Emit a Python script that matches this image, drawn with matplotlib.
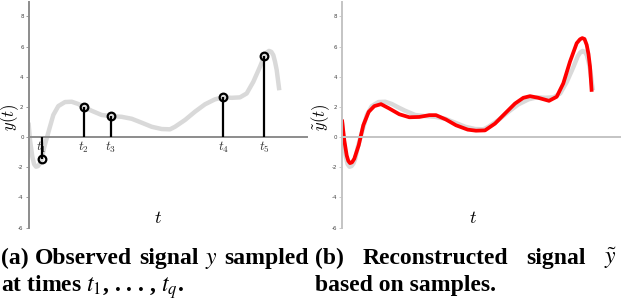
import numpy as np
import matplotlib
matplotlib.use('Agg')
import matplotlib.pyplot as plt

plt.rcParams.update({
    'mathtext.fontset': 'cm',
    'axes.unicode_minus': False,
    'font.family': 'DejaVu Sans',
})

# observed (true) signal
true_t = [0, 1.5, 3.8, 5.6, 7.5, 9.5, 11.5, 13.2, 15.8, 20.5, 24.8, 29.8, 36.5, 43.2, 49.8, 55.2,
          63.2, 73.2, 82.5, 93.2, 103.2, 113.2, 123.2, 133.2, 141.5, 146.5, 156.5,
          166.5, 176.5, 186.5, 194.8, 203.2, 211.5, 218.2, 224.8, 231.5, 235.8,
          238.2, 240.5, 242.8, 244.8, 246.5, 248.2, 250.8]
true_y = [0.95, -0.2, -1.3, -1.8, -1.97, -1.93, -1.75, -1.45, -0.66, 0.46, 1.46, 2.05, 2.32, 2.34, 2.19, 2.0,
          1.74, 1.46, 1.39, 1.34, 1.21, 0.95, 0.68, 0.53, 0.51, 0.68, 1.13,
          1.68, 2.17, 2.5, 2.63, 2.6, 2.63, 2.89, 3.66, 4.66, 5.36,
          5.6, 5.71, 5.65, 5.43, 5.0, 4.44, 3.1]

# samples
samp_t = [13.2, 55.2, 82.5, 194.8, 235.8]
samp_y = [-1.48, 2.0, 1.39, 2.63, 5.36]
samp_lbl = [r'$t_1$', r'$t_2$', r'$t_3$', r'$t_4$', r'$t_5$']

# reconstructed signal
rec_t = [0, 2.3, 4.7, 6.3, 8, 10, 12.3, 16.7, 21.3, 26.7, 32.3, 39, 47.3, 57.3, 67.3, 77.3,
         87.3, 94, 104, 114, 125.7, 134, 143, 153, 163, 173, 181.3, 188, 196.3,
         207, 214.7, 221.3, 228, 234.7, 238, 240.3, 242.5, 244.7, 246.5, 248, 249.7]
rec_y = [1.16, -0.22, -1.22, -1.58, -1.73, -1.68, -1.44, -0.55, 0.78, 1.67, 2.05, 2.18, 1.89, 1.51, 1.31, 1.33,
         1.45, 1.45, 1.16, 0.78, 0.49, 0.42, 0.44, 0.89, 1.56, 2.22, 2.6, 2.71, 2.6,
         2.4, 2.67, 3.56, 5.0, 6.22, 6.48, 6.56, 6.5, 6.11, 5.5, 4.67, 3.0]

yticks = [-6, -4, -2, 0, 2, 4, 6, 8]

W, H = 622, 302
fig = plt.figure(figsize=(W / 100, H / 100), dpi=100)


def make_axes(x0, axcol):
    ax = fig.add_axes([x0 / W, (H - 227.5) / H, 278 / W, 225.5 / H])
    ax.set_xlim(0, 278)
    ax.set_ylim(-6, -6 + 225.5 / 15.08)
    ax.patch.set_alpha(0)
    for s in ['top', 'right']:
        ax.spines[s].set_visible(False)
    ax.spines['bottom'].set_position(('data', 0))
    ax.spines['bottom'].set_color(axcol)
    ax.spines['left'].set_color(axcol)
    ax.spines['bottom'].set_linewidth(1.4)
    ax.spines['left'].set_linewidth(1.4)
    ax.set_xticks([])
    ax.set_yticks(yticks)
    ax.tick_params(axis='y', length=2, width=0.6, color=axcol, labelsize=4,
                   labelcolor='#444444', pad=1.5)
    return ax


# (a) observed signal with samples
ax1 = make_axes(28.5, '#8c8c8c')
ax1.plot(true_t, true_y, color='#d9d9d9', lw=3.2, solid_capstyle='butt',
         solid_joinstyle='round', zorder=1)
for t, lbl in zip(samp_t, samp_lbl):
    ax1.text(t, -0.68, lbl, ha='center', va='center', fontsize=9.5,
             color='#333333', zorder=2)
ax1.vlines(samp_t, 0, samp_y, color='black', lw=1.6, zorder=3)
ax1.plot(samp_t, samp_y, 'o', ms=5.5, mfc='none', mec='black', mew=1.6, zorder=4)

# (b) reconstruction
ax2 = make_axes(342, '#c4c4c4')
ax2.plot(true_t, true_y, color='#d9d9d9', lw=3.2, solid_capstyle='butt',
         solid_joinstyle='round', zorder=1)
ax2.plot(rec_t, rec_y, color='#ff0000', lw=2.7, solid_capstyle='butt',
         solid_joinstyle='round', zorder=2)

# axis labels
fig.text(10 / W, 1 - 117 / H, r'$y(t)$', rotation=90, ha='center', va='center', fontsize=12)
fig.text(321 / W, 1 - 117 / H, r'$\tilde{y}(t)$', rotation=90, ha='center', va='center', fontsize=12)
fig.text(158 / W, 1 - 218 / H, r'$t$', ha='center', va='center', fontsize=13)
fig.text(473 / W, 1 - 218 / H, r'$t$', ha='center', va='center', fontsize=13)

# captions (first line justified)
cap = dict(family='Liberation Serif', fontweight='bold', fontsize=17,
           math_fontfamily='stix', va='baseline')
renderer = fig.canvas.get_renderer()


def justify(words, x0, x1, ybase):
    arts = [fig.text(0, 1 - ybase / H, w, **cap) for w in words]
    widths = [a.get_window_extent(renderer).width for a in arts]
    gap = (x1 - x0 - sum(widths)) / (len(words) - 1)
    x = x0
    for a, w in zip(arts, widths):
        a.set_x(x / W)
        x += w + gap


justify(['(a)', 'Observed', 'signal', r'$y$', 'sampled'], 1, 309, 264)
fig.text(1 / W, 1 - 291.5 / H, r'at times $t_1$, . . . , $t_q$.', **cap)
justify(['(b)', 'Reconstructed', 'signal', r'$\tilde{y}$'], 315, 617, 264)
fig.text(315 / W, 1 - 291.5 / H, 'based on samples.', **cap)

fig.savefig('out.png', dpi=100)
